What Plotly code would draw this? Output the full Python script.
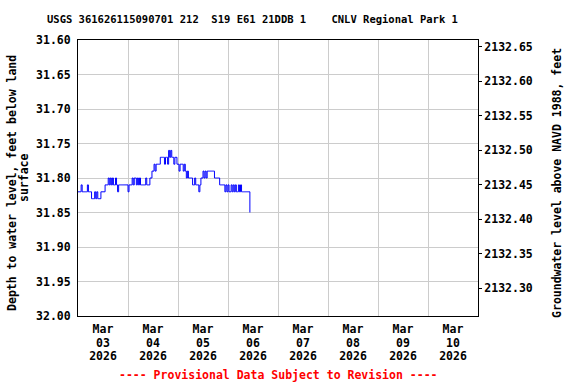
import pandas as pd
import plotly.graph_objects as go

# Depth to water (ft below land surface), 30-minute readings from 2026-03-03 00:00
depth = [
    31.82, 31.82, 31.82, 31.81, 31.82, 31.82, 31.82, 31.82, 31.82, 31.81,
    31.82, 31.82, 31.82, 31.83, 31.83, 31.83, 31.82, 31.83, 31.82, 31.83,
    31.83, 31.83, 31.82, 31.82, 31.82, 31.82, 31.81, 31.81, 31.81, 31.80,
    31.81, 31.80, 31.81, 31.80, 31.81, 31.81, 31.80, 31.81, 31.82, 31.81,
    31.81, 31.81, 31.81, 31.81, 31.81, 31.81, 31.81, 31.81, 31.82, 31.81,
    31.81, 31.81, 31.80, 31.81, 31.80, 31.80, 31.81, 31.80, 31.81, 31.80,
    31.81, 31.81, 31.81, 31.81, 31.81, 31.80, 31.81, 31.81, 31.81, 31.80,
    31.80, 31.79, 31.79, 31.78, 31.79, 31.78, 31.78, 31.78, 31.78, 31.77,
    31.77, 31.77, 31.77, 31.78, 31.77, 31.77, 31.78, 31.76, 31.77, 31.76,
    31.77, 31.77, 31.78, 31.77, 31.77, 31.78, 31.78, 31.79, 31.78, 31.78,
    31.78, 31.79, 31.78, 31.79, 31.80, 31.79, 31.80, 31.80, 31.80, 31.80,
    31.81, 31.81, 31.80, 31.81, 31.81, 31.81, 31.82, 31.81, 31.80, 31.80,
    31.79, 31.80, 31.79, 31.80, 31.79, 31.79, 31.79, 31.79, 31.79, 31.79,
    31.79, 31.80, 31.80, 31.80, 31.80, 31.80, 31.81, 31.81, 31.81, 31.81,
    31.81, 31.82, 31.81, 31.82, 31.81, 31.82, 31.82, 31.81, 31.82, 31.81,
    31.82, 31.81, 31.82, 31.82, 31.81, 31.82, 31.81, 31.82, 31.82, 31.82,
    31.82, 31.82, 31.82, 31.82, 31.82, 31.85,
]
start_time = "2026-03-03 00:00"
times = pd.date_range(start_time, periods=len(depth), freq="30min")

land_surface_elev = 2164.26  # ft above NAVD 1988
elev = [round(land_surface_elev - d, 2) for d in depth]

day_starts = pd.date_range("2026-03-03", "2026-03-11", freq="D")
label_days = pd.date_range("2026-03-03 12:00", periods=8, freq="D")
month_labels = ["Mar"] * 8
day_labels = ["03", "04", "05", "06", "07", "08", "09", "10"]
year_labels = ["2026"] * 8
left_ticks = [31.60, 31.65, 31.70, 31.75, 31.80, 31.85, 31.90, 31.95, 32.00]
right_ticks = [2132.30, 2132.35, 2132.40, 2132.45, 2132.50, 2132.55, 2132.60, 2132.65]

title_text = "USGS 361626115090701 212  S19 E61 21DDB 1    CNLV Regional Park 1".replace(" ", "\u00a0")

FONT = "DejaVu Sans Mono"
FS = 11.5
fig = go.Figure()
fig.add_trace(go.Scatter(x=times, y=depth, mode="lines", line=dict(color="#0000ff", width=1, shape="hv"),
                         xaxis="x", yaxis="y", showlegend=False))
fig.add_trace(go.Scatter(x=times, y=elev, mode="lines", line=dict(color="rgba(0,0,0,0)", width=0),
                         xaxis="x", yaxis="y2", showlegend=False, hoverinfo="skip"))

x0 = day_starts[0]
x1 = day_starts[-1]
label_axis = dict(range=[x0, x1], overlaying="x", side="bottom", tickvals=label_days, showgrid=False,
                  ticks="", showline=False, zeroline=False, tickfont=dict(size=FS))
fig.update_layout(
    width=576, height=384,
    margin=dict(l=78, r=98, t=40, b=68),
    paper_bgcolor="white", plot_bgcolor="white",
    font=dict(family=FONT, size=FS, color="black", weight="bold"),
    xaxis=dict(range=[x0, x1], tickvals=day_starts, showticklabels=False, showgrid=True,
               gridcolor="#cccccc", gridwidth=1, ticks="", showline=True, linecolor="black",
               linewidth=1, mirror=True, zeroline=False),
    xaxis2=dict(label_axis, ticktext=month_labels, ticklabelstandoff=4),
    xaxis3=dict(label_axis, ticktext=day_labels, ticklabelstandoff=18),
    xaxis4=dict(label_axis, ticktext=year_labels, ticklabelstandoff=31),
    yaxis=dict(range=[32.0, 31.6], tickvals=left_ticks, ticktext=[f"{v:.2f}" for v in left_ticks],
               showgrid=True, gridcolor="#cccccc", gridwidth=1, ticks="", ticklabelstandoff=4,
               showline=True, linecolor="black", linewidth=1, mirror=True, zeroline=False),
    yaxis2=dict(range=[land_surface_elev - 32.0, land_surface_elev - 31.6], overlaying="y", side="right",
                tickvals=right_ticks, ticktext=[f"{v:.2f}" for v in right_ticks], showgrid=False,
                ticks="outside", ticklen=3, tickcolor="black", showline=False, zeroline=False),
)
# invisible traces anchoring the label axes
for ax in ["x2", "x3", "x4"]:
    fig.add_trace(go.Scatter(x=[x0, x1], y=[32.0, 32.0], mode="lines", line=dict(color="rgba(0,0,0,0)"),
                             xaxis=ax, yaxis="y", showlegend=False, hoverinfo="skip"))

fig.add_annotation(text=title_text, xref="paper", yref="paper", x=0.435, y=1.076, showarrow=False,
                   xanchor="center", yanchor="middle", font=dict(size=10.5))
fig.add_annotation(text="Depth to water level, feet below land", xref="paper", yref="paper",
                   x=-0.165, y=0.482, textangle=-90, showarrow=False, xanchor="center", yanchor="middle")
fig.add_annotation(text="surface", xref="paper", yref="paper",
                   x=-0.135, y=0.5, textangle=-90, showarrow=False, xanchor="center", yanchor="middle")
fig.add_annotation(text="Groundwater level above NAVD 1988, feet", xref="paper", yref="paper",
                   x=1.1975, y=0.482, textangle=-90, showarrow=False, xanchor="center", yanchor="middle")
fig.add_annotation(text="---- Provisional Data Subject to Revision ----", xref="paper", yref="paper",
                   x=0.5, y=-0.214, showarrow=False, xanchor="center", yanchor="middle",
                   font=dict(color="red", size=FS))

fig.write_html("out.html", config={"displayModeBar": False},
               post_script="document.body.style.margin='0';")
